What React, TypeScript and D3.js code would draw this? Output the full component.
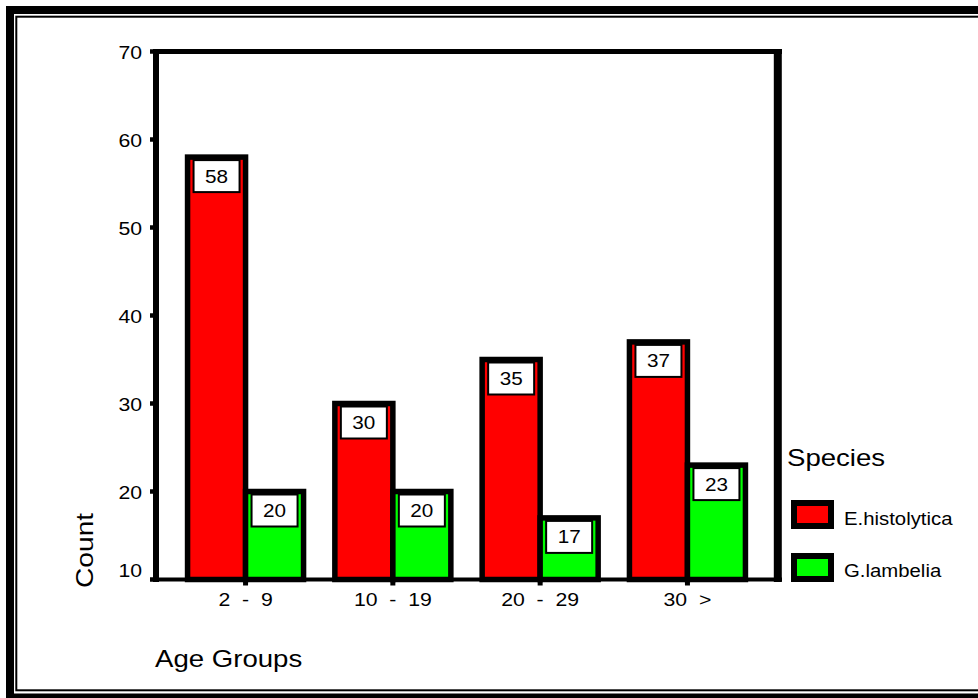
import React from "react";
import * as d3 from "d3";

const ageGroups = ["2  -  9", "10  -  19", "20  -  29", "30  >"];
const speciesNames = ["E.histolytica", "G.lambelia"];
const histolyticaCounts = [58, 30, 35, 37];
const lambeliaCounts = [20, 20, 17, 23];
const yTicks = [10, 20, 30, 40, 50, 60, 70];
const speciesColors = ["#ff0000", "#00ff00"];

const W = 978;
const H = 698;
const FONT = "'Liberation Sans', Arial, Helvetica, sans-serif";

const plotLeft = 156;
const plotRight = 777;
const plotTop = 51.5;
const plotBottom = 579.5;

const x = d3.scalePoint<string>().domain(ageGroups).range([plotLeft, plotRight]).padding(0.608);
const y = d3.scaleLinear().domain([10, 70]).range([plotBottom, plotTop]);

const barW = 58;
const barStroke = 5.5;

type TProps = {
  x: number;
  y: number;
  size: number;
  sx?: number;
  anchor?: "start" | "middle" | "end";
  rotate?: number;
  children: React.ReactNode;
};

// Text with slight horizontal widening
function T({ x: tx, y: ty, size, sx = 1.18, anchor = "start", rotate = 0, children }: TProps) {
  return (
    <text
      transform={`translate(${tx},${ty}) rotate(${rotate}) scale(${sx},1)`}
      fontFamily={FONT}
      fontSize={size}
      textAnchor={anchor}
      fill="#000"
      style={{ whiteSpace: "pre" }}
    >
      {children}
    </text>
  );
}

export default function App() {
  const series = [histolyticaCounts, lambeliaCounts];
  return (
    <svg
      width={W}
      height={H}
      style={{ position: "absolute", left: 0, top: 0, background: "#fff" }}
    >
      <rect x={0} y={0} width={W} height={H} fill="#fff" />

      {/* double frame */}
      <rect x={10} y={10} width={990} height={687.5} fill="none" stroke="#000" strokeWidth={8} />
      <rect x={16.3} y={16.7} width={990} height={673.6} fill="none" stroke="#000" strokeWidth={2} />

      {/* bars */}
      {ageGroups.map((g, i) => {
        const cx = x(g)!;
        return (
          <g key={g}>
            {series.map((vals, s) => {
              const v = vals[i];
              const bx = s === 0 ? cx - barW : cx;
              const by = y(v);
              const bcx = bx + barW / 2;
              return (
                <g key={s}>
                  <rect
                    x={bx}
                    y={by}
                    width={barW}
                    height={plotBottom - by}
                    fill={speciesColors[s]}
                    stroke="#000"
                    strokeWidth={barStroke}
                  />
                  <rect
                    x={bcx - 23}
                    y={by + 3}
                    width={46}
                    height={32}
                    fill="#fff"
                    stroke="#000"
                    strokeWidth={2}
                  />
                  <T x={bcx} y={by + 25.5} size={18} sx={1.15} anchor="middle">
                    {v}
                  </T>
                </g>
              );
            })}
          </g>
        );
      })}

      {/* axes frame */}
      <line x1={plotLeft} x2={plotLeft} y1={49} y2={582} stroke="#000" strokeWidth={6} />
      <line x1={153} x2={782} y1={plotTop} y2={plotTop} stroke="#000" strokeWidth={5} />
      <line x1={777.8} x2={777.8} y1={49} y2={582} stroke="#000" strokeWidth={8} />
      <line x1={153} x2={782} y1={plotBottom} y2={plotBottom} stroke="#000" strokeWidth={4} />

      {/* y ticks */}
      {yTicks.map((t, i) => (
        <g key={t}>
          <line x1={150} x2={plotLeft} y1={y(t)} y2={y(t)} stroke="#000" strokeWidth={4.5} />
          <T x={142} y={y(t) + (i === 0 ? -2.5 : 7.5)} size={18} anchor="end">
            {t}
          </T>
        </g>
      ))}

      {/* x ticks */}
      {ageGroups.map((g) => (
        <g key={g}>
          <line x1={x(g)!} x2={x(g)!} y1={plotBottom} y2={585.5} stroke="#000" strokeWidth={5} />
          <T x={x(g)!} y={606} size={18} anchor="middle">
            {g}
          </T>
        </g>
      ))}

      {/* axis titles */}
      <T x={93} y={588} size={24.5} sx={1.15} rotate={-90}>
        Count
      </T>
      <T x={155} y={667} size={23} sx={1.2}>
        Age Groups
      </T>

      {/* legend */}
      <T x={787} y={466} size={23} sx={1.2}>
        Species
      </T>
      {speciesNames.map((name, i) => (
        <g key={name}>
          <rect
            x={794}
            y={503 + i * 53}
            width={37}
            height={23}
            fill={speciesColors[i]}
            stroke="#000"
            strokeWidth={6}
          />
          <T x={844} y={525 + i * 52} size={18.5} sx={1.1}>
            {name}
          </T>
        </g>
      ))}
    </svg>
  );
}
